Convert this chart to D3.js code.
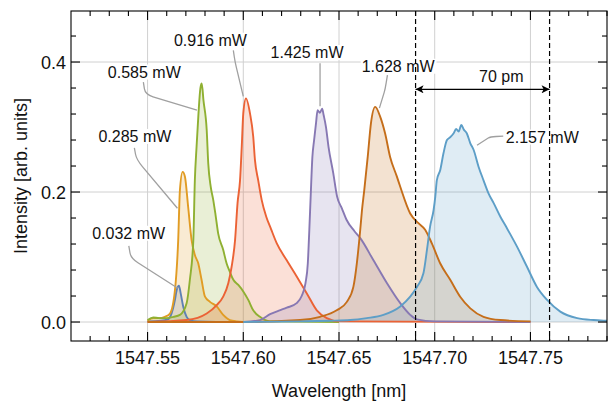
<!DOCTYPE html>
<html><head><meta charset="utf-8">
<script src="https://cdn.jsdelivr.net/npm/d3@7"></script>
<style>
body{margin:0;background:#fff}
svg{display:block}
text{font-family:"Liberation Sans",Arial,sans-serif;fill:#111}
</style>
</head><body>
<svg id="chart" width="610" height="402"></svg>
<script>
// ---------- data ----------
const powerLabels = ["0.032 mW","0.285 mW","0.585 mW","0.916 mW","1.425 mW","1.628 mW","2.157 mW"];
const seriesColors = ["#5E81B5","#E19C24","#8FB032","#EB6235","#8778B3","#C56E1A","#5D9EC7"];

const s0032 = [[1547.550,0.001],[1547.557,0.002],[1547.5605,0.004],[1547.5625,0.013],[1547.5643,0.034],[1547.5652,0.049],[1547.5664,0.056],[1547.5673,0.044],[1547.5686,0.024],[1547.5704,0.008],[1547.5721,0.003],[1547.576,0.001],[1547.600,0.000]];
const s0285 = [[1547.550,0.002],[1547.553,0.006],[1547.556,0.006],[1547.559,0.008],[1547.5617,0.013],[1547.5643,0.049],[1547.5660,0.126],[1547.5669,0.203],[1547.5683,0.231],[1547.5695,0.224],[1547.5712,0.177],[1547.5730,0.126],[1547.5747,0.103],[1547.5765,0.090],[1547.5782,0.065],[1547.5800,0.039],[1547.5826,0.031],[1547.5861,0.024],[1547.5895,0.011],[1547.5930,0.003],[1547.597,0.001],[1547.600,0.000]];
const s0585 = [[1547.550,0.003],[1547.553,0.007],[1547.556,0.006],[1547.560,0.006],[1547.5635,0.008],[1547.5669,0.011],[1547.5704,0.029],[1547.5721,0.065],[1547.5739,0.126],[1547.5747,0.218],[1547.5756,0.270],[1547.5766,0.321],[1547.5776,0.360],[1547.5783,0.367],[1547.5792,0.341],[1547.5809,0.295],[1547.5817,0.244],[1547.5830,0.208],[1547.5843,0.188],[1547.5855,0.165],[1547.5869,0.136],[1547.5895,0.111],[1547.5913,0.090],[1547.5930,0.077],[1547.5948,0.065],[1547.5974,0.057],[1547.6000,0.047],[1547.6026,0.034],[1547.6052,0.018],[1547.6087,0.008],[1547.6140,0.001],[1547.650,0.000]];
const s0916 = [[1547.550,0.000],[1547.5704,0.003],[1547.5809,0.013],[1547.5861,0.026],[1547.5895,0.039],[1547.5922,0.060],[1547.5939,0.085],[1547.5957,0.126],[1547.5970,0.183],[1547.5983,0.218],[1547.5992,0.270],[1547.6000,0.321],[1547.6014,0.344],[1547.6035,0.321],[1547.6052,0.285],[1547.6061,0.249],[1547.6078,0.218],[1547.6096,0.188],[1547.6120,0.162],[1547.6145,0.143],[1547.6175,0.121],[1547.6227,0.095],[1547.6279,0.070],[1547.6332,0.044],[1547.6384,0.018],[1547.6436,0.006],[1547.650,0.001],[1547.750,0.000]];
const s1425 = [[1547.600,0.000],[1547.6087,0.003],[1547.6140,0.012],[1547.6190,0.018],[1547.6227,0.022],[1547.6279,0.029],[1547.6305,0.040],[1547.6325,0.060],[1547.6337,0.090],[1547.6345,0.142],[1547.6352,0.193],[1547.6361,0.254],[1547.6370,0.280],[1547.6380,0.306],[1547.6388,0.326],[1547.6400,0.322],[1547.6412,0.328],[1547.6420,0.318],[1547.6432,0.300],[1547.6445,0.270],[1547.6470,0.229],[1547.6490,0.193],[1547.6515,0.175],[1547.6540,0.157],[1547.6580,0.140],[1547.6611,0.129],[1547.6680,0.095],[1547.6750,0.060],[1547.6820,0.029],[1547.6872,0.011],[1547.6907,0.004],[1547.700,0.001],[1547.750,0.000]];
const s1628 = [[1547.550,0.000],[1547.600,0.000],[1547.6297,0.003],[1547.6401,0.008],[1547.6488,0.018],[1547.6541,0.031],[1547.6575,0.054],[1547.6593,0.090],[1547.6611,0.142],[1547.6620,0.172],[1547.6632,0.203],[1547.6650,0.254],[1547.6667,0.306],[1547.6689,0.331],[1547.6715,0.316],[1547.6741,0.290],[1547.6767,0.254],[1547.6802,0.224],[1547.6820,0.208],[1547.6872,0.167],[1547.6915,0.152],[1547.6950,0.142],[1547.6985,0.121],[1547.7029,0.090],[1547.7081,0.065],[1547.7133,0.039],[1547.7186,0.021],[1547.7255,0.008],[1547.7343,0.003],[1547.750,0.001]];
const s2157 = [[1547.600,0.000],[1547.630,0.001],[1547.645,0.002],[1547.6558,0.003],[1547.6645,0.006],[1547.6732,0.011],[1547.6820,0.024],[1547.6872,0.039],[1547.6907,0.054],[1547.6941,0.075],[1547.6960,0.112],[1547.6976,0.147],[1547.6994,0.172],[1547.7003,0.193],[1547.7011,0.218],[1547.7029,0.234],[1547.7046,0.260],[1547.7064,0.280],[1547.7080,0.284],[1547.7098,0.290],[1547.7112,0.297],[1547.7125,0.293],[1547.7139,0.303],[1547.7152,0.296],[1547.7168,0.290],[1547.7186,0.275],[1547.7203,0.265],[1547.7229,0.239],[1547.7255,0.218],[1547.7281,0.198],[1547.7308,0.183],[1547.7343,0.162],[1547.7378,0.144],[1547.7430,0.116],[1547.7482,0.085],[1547.7534,0.054],[1547.7587,0.034],[1547.7656,0.016],[1547.7744,0.006],[1547.7830,0.003],[1547.7900,0.002],[1547.800,0.001]];
const allSeries = [s0032,s0285,s0585,s0916,s1425,s1628,s2157];

// label anchor (text centre) and leader line points, in data units
const labelCentres = [[1547.5401,0.137],[1547.5434,0.286],[1547.5483,0.385],[1547.5828,0.434],[1547.6333,0.415],[1547.6809,0.394],[1547.7562,0.285]];
const leaderLines = [
  [[1547.5402,0.117],[1547.5413,0.098],[1547.5658,0.052]],
  [[1547.5431,0.268],[1547.5442,0.250],[1547.5656,0.175]],
  [[1547.5478,0.369],[1547.5488,0.350],[1547.5758,0.326]],
  [[1547.5948,0.418],[1547.5957,0.400],[1547.6000,0.347]],
  [[1547.6401,0.398],[1547.6401,0.365],[1547.6401,0.332]],
  [[1547.6753,0.380],[1547.6741,0.358],[1547.6711,0.329]],
  [[1547.7358,0.286],[1547.7290,0.285],[1547.7221,0.272]]
];
const markerLines = [1547.69, 1547.76];
const spanLabel = "70 pm";
const spanLabelPos = [1547.7348, 0.378];
const spanArrowLevel = 0.358;

const xTickValues = [1547.55,1547.60,1547.65,1547.70,1547.75];
const xTickLabels = ["1547.55","1547.60","1547.65","1547.70","1547.75"];
const yTickValues = [0.0,0.2,0.4];
const yTickLabels = ["0.0","0.2","0.4"];
const xTitle = "Wavelength [nm]";
const yTitle = "Intensity [arb. units]";

// ---------- chart ----------
const svg = d3.select("#chart");
const L=71, R=607, T=11, B=341;
const x = d3.scaleLinear().domain([1547.51,1547.79]).range([L,R]);
const y = d3.scaleLinear().domain([-0.0292,0.4785]).range([B,T]);

svg.append("defs").append("clipPath").attr("id","clip")
  .append("rect").attr("x",L).attr("y",T).attr("width",R-L).attr("height",B-T);

// grid
const grid = svg.append("g").attr("stroke","#d0d0d0").attr("stroke-width",1);
xTickValues.forEach(v=>grid.append("line").attr("x1",x(v)).attr("x2",x(v)).attr("y1",T).attr("y2",B));
yTickValues.forEach(v=>grid.append("line").attr("x1",L).attr("x2",R).attr("y1",y(v)).attr("y2",y(v)));

const plot = svg.append("g").attr("clip-path","url(#clip)");
const area = d3.area().x(d=>x(d[0])).y0(y(0)).y1(d=>y(d[1])).curve(d3.curveMonotoneX);
const line = d3.line().x(d=>x(d[0])).y(d=>y(d[1])).curve(d3.curveMonotoneX);
allSeries.forEach((s,i)=>{
  plot.append("path").attr("d",area(s)).attr("fill",seriesColors[i]).attr("fill-opacity",0.2);
});
allSeries.forEach((s,i)=>{
  plot.append("path").attr("d",line(s)).attr("fill","none").attr("stroke",seriesColors[i])
    .attr("stroke-width",1.9).attr("stroke-linejoin","round");
});

// leader lines
leaderLines.forEach(pts=>{
  const p = pts.map(d=>[x(d[0]),y(d[1])]);
  const path = d3.path();
  const r = 0.45;
  const a = [p[0][0]+(p[1][0]-p[0][0])*(1-r), p[0][1]+(p[1][1]-p[0][1])*(1-r)];
  const b = [p[1][0]+(p[2][0]-p[1][0])*0.15, p[1][1]+(p[2][1]-p[1][1])*0.15];
  path.moveTo(p[0][0],p[0][1]); path.lineTo(a[0],a[1]);
  path.quadraticCurveTo(p[1][0],p[1][1],b[0],b[1]); path.lineTo(p[2][0],p[2][1]);
  svg.append("path").attr("d",path.toString()).attr("fill","none").attr("stroke","#a0a0a0").attr("stroke-width",1.3);
});

// labels with white backgrounds
const labG = svg.append("g");
powerLabels.forEach((t,i)=>{
  const g = labG.append("g");
  const tx = g.append("text").attr("x",x(labelCentres[i][0])).attr("y",y(labelCentres[i][1])+5.8)
    .attr("text-anchor","middle").attr("font-size",16).text(t);
  const bb = tx.node().getBBox();
  g.insert("rect","text").attr("x",bb.x-1).attr("y",bb.y+1).attr("width",bb.width+2).attr("height",bb.height-2).attr("fill","#fff");
});
labG.append("text").attr("x",x(spanLabelPos[0])).attr("y",y(spanLabelPos[1])+5.8)
  .attr("text-anchor","middle").attr("font-size",16).text(spanLabel);

// dashed markers and arrow
markerLines.forEach(v=>svg.append("line").attr("x1",x(v)).attr("x2",x(v)).attr("y1",T).attr("y2",B)
  .attr("stroke","#000").attr("stroke-width",1.2).attr("stroke-dasharray","5,3"));
const defs = svg.select("defs");
defs.append("marker").attr("id","ah").attr("viewBox","0 0 10 10").attr("refX",10).attr("refY",5)
  .attr("markerWidth",11).attr("markerHeight",8).attr("markerUnits","userSpaceOnUse").attr("orient","auto-start-reverse")
  .append("path").attr("d","M0,0 L10,5 L0,10 L2.5,5 Z").attr("fill","#000");
svg.append("line").attr("x1",x(markerLines[0])).attr("x2",x(markerLines[1])).attr("y1",y(spanArrowLevel)).attr("y2",y(spanArrowLevel))
  .attr("stroke","#000").attr("stroke-width",1.3).attr("marker-start","url(#ah)").attr("marker-end","url(#ah)");

// frame & ticks
const fr = svg.append("g").attr("stroke","#000").attr("stroke-width",1.1);
fr.append("rect").attr("x",L).attr("y",T).attr("width",R-L).attr("height",B-T).attr("fill","none");
const xMinor = d3.range(1547.52,1547.795,0.01);
xMinor.forEach(v=>{
  const major = xTickValues.some(m=>Math.abs(m-v)<1e-6);
  const len = major?9:5;
  fr.append("line").attr("x1",x(v)).attr("x2",x(v)).attr("y1",B).attr("y2",B-len);
  fr.append("line").attr("x1",x(v)).attr("x2",x(v)).attr("y1",T).attr("y2",T+len);
});
const yMinor = d3.range(0,0.47,0.04);
yMinor.forEach(v=>{
  const major = yTickValues.some(m=>Math.abs(m-v)<1e-6);
  const len = major?9:5;
  fr.append("line").attr("y1",y(v)).attr("y2",y(v)).attr("x1",L).attr("x2",L+len);
  fr.append("line").attr("y1",y(v)).attr("y2",y(v)).attr("x1",R).attr("x2",R-len);
});
xTickValues.forEach((v,i)=>svg.append("text").attr("x",x(v)).attr("y",364).attr("text-anchor","middle").attr("font-size",18).text(xTickLabels[i]));
yTickValues.forEach((v,i)=>svg.append("text").attr("x",66).attr("y",y(v)+6.5).attr("text-anchor","end").attr("font-size",18).text(yTickLabels[i]));
svg.append("text").attr("x",(L+R)/2).attr("y",397).attr("text-anchor","middle").attr("font-size",18).text(xTitle);
svg.append("text").attr("transform",`translate(27,${(T+B)/2}) rotate(-90)`).attr("text-anchor","middle").attr("font-size",18).text(yTitle);
</script>
</body></html>
